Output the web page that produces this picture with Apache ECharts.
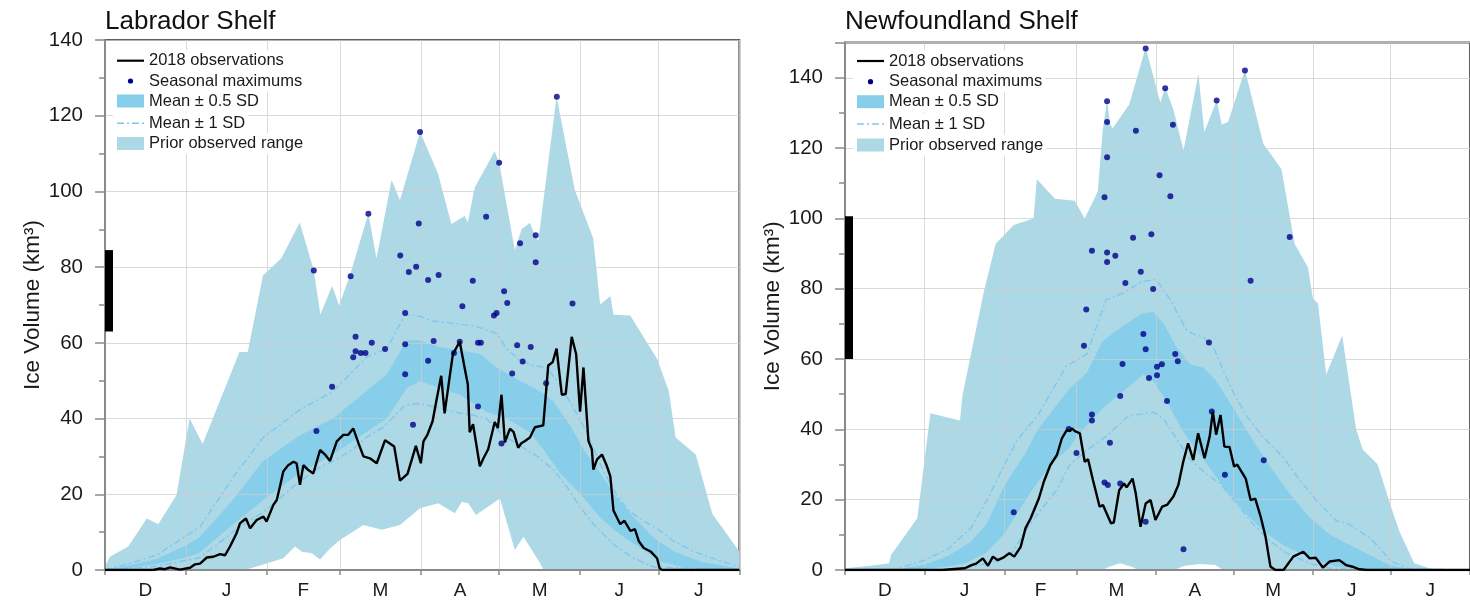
<!DOCTYPE html>
<html><head><meta charset="utf-8">
<script src="https://cdn.jsdelivr.net/npm/echarts@6/dist/echarts.min.js"></script>
<style>html,body{margin:0;padding:0;background:#fff}#c{width:1470px;height:600px}</style>
</head><body><div id="c"></div>
<script>
// x = days since 1 December
const MONTH_STARTS = [0,31,62,90,121,151,182,212,243];
const MONTH_MIDS = [15.5,46.5,76,105.5,136,166.5,197,227.5];
const MONTH_LABELS = ['D','J','F','M','A','M','J','J'];
const PANEL_TITLES = ['Labrador Shelf','Newfoundland Shelf'];
const LEGEND_LABELS = ['2018 observations','Seasonal maximums','Mean \u00b1 0.5 SD','Mean \u00b1 1 SD','Prior observed range'];

// ---------- Labrador Shelf ----------
const labObs = [[0,0],[18.5,0],[21,0.4],[23,0.2],[24.9,0.7],[28.7,0.1],[32.6,0.6],[34.5,1.5],[36.4,1.7],[39,3.3],[41.5,3.5],[44.1,4.2],[46,3.9],[47.9,6.2],[50.4,9.7],[51.7,12.3],[54,13.6],[55.6,11],[58.1,13.2],[60.7,14.1],[61.9,12.8],[63.2,15],[64.5,17.2],[65.8,18.5],[67,22],[68.3,26],[70.2,27.7],[72.2,28.6],[73.4,28.2],[74.7,22.5],[76,27.7],[77.9,26.4],[79.8,25.5],[82.4,31.7],[84.3,30.5],[86.2,28.8],[88.8,34],[91.3,35.7],[93.2,35.7],[95.1,37.4],[97.1,33.5],[99,30],[101.5,29.5],[104.1,28.2],[107.3,34.3],[110.8,32.6],[113,23.6],[115.9,25.4],[119.1,32.8],[121,28.2],[122,34],[123.5,35.7],[125.5,39.3],[126.9,44.5],[128.8,51.3],[130.1,41.4],[132,50.8],[133.3,57.1],[135.9,60.3],[137.5,54.4],[139,49],[139.7,36.4],[141,38.5],[143.6,27.4],[145,29.5],[146.8,31.9],[149.3,39.1],[150.5,37.5],[151.9,46.3],[153.2,33.7],[155.1,37.3],[156.5,36.5],[158.3,32.3],[159.5,33.5],[160.9,34.1],[162.8,35],[164.7,37.7],[167.9,38.2],[169.8,54],[171.5,54.9],[173,58.5],[175,46.3],[176.5,46.5],[178.8,61.6],[180.5,57],[182,41.8],[183.3,53.5],[185.2,34.1],[186.5,31.9],[187.1,26.5],[188.5,29.2],[190.4,30.5],[192.3,27.4],[193.6,24.7],[194.8,15.7],[197.4,12.1],[199,13],[201.3,10.3],[203,10.8],[204.5,7.6],[206.4,5.8],[209,4.9],[211.5,3.1],[212.5,0.4],[213.5,0],[243,0]];
const labMaxDots = [[80,79.1],[81,36.7],[87,48.4],[94.1,77.6],[96,61.6],[95.1,56.2],[96,57.8],[98,57.3],[99.8,57.3],[102.2,60],[100.9,94.1],[107.3,58.4],[113.1,83.1],[115,67.9],[115,59.6],[115,51.7],[116.4,78.7],[119.2,80.1],[118,38.4],[120.2,91.5],[120.7,115.7],[123.8,76.6],[127.8,77.9],[125.9,60.5],[123.8,55.3],[133.7,57.3],[135.9,60.3],[136.9,69.7],[140.9,76.4],[142.9,60],[144,60],[142.9,43.2],[146,93.3],[149,67.2],[150,67.9],[151,107.6],[152.9,73.6],[154.1,70.5],[151.9,33.4],[156,51.9],[157.9,59.4],[159,86.3],[160,55.1],[163.1,58.9],[165,88.4],[165,81.3],[169,49.3],[173.1,125],[179.1,70.4]];
const labRangeMax = [[0,1],[1.9,3.5],[8.9,6.2],[16,13.6],[20.4,12.1],[27.4,19.8],[32.4,40],[37.4,33.3],[51.5,57.6],[54.7,57.6],[60.5,77.8],[67.5,82.3],[74.6,91.8],[80,79.1],[82.5,67.5],[87,75],[89.7,69.9],[93.8,77.8],[100.9,94.2],[104,82.3],[109.8,103],[113,97.7],[120.7,115.7],[127.5,104.9],[132.7,91.4],[137.8,93.5],[139,91.8],[141.6,101],[149.3,110.6],[151,107.6],[157,84.5],[159.6,90],[162.8,91.7],[164.7,88.2],[166,87],[173,125],[180,100.3],[187,87.7],[189.7,70.1],[193.6,72.4],[194.8,67.4],[201.2,67.2],[211.5,55.8],[216,47.2],[218.6,35],[226.3,30.5],[232.7,14.8],[243,4.9]];
const labRangeMin = [[0,0],[50,0],[55.6,0.4],[68.3,3.1],[72.8,6.2],[75.4,4.8],[79.2,4.4],[82.4,2.8],[86.2,5.7],[90,7.9],[99,11.9],[106,10.6],[113,11.9],[120.7,16.3],[127.7,17.6],[134,15],[136.7,18],[139.2,17.6],[142.1,14.5],[151.3,18.9],[157,5.3],[160.3,8.8],[166.7,1.8],[168,0],[243,0]];
const labSd1Up = [[0,0],[10,1.8],[20,4],[36.4,11.4],[49.2,24.6],[60.6,35],[74.6,42.3],[87.4,47.2],[100.2,56.2],[108,58.5],[115,67.5],[120.7,67],[125.6,65.7],[133.3,65.2],[142.3,64.3],[150,62.5],[153.8,58.5],[159,55.3],[164,54],[169.2,53.5],[174.3,49],[179.5,42.7],[184.6,36.4],[189.7,28],[194.9,21],[200,16],[205.1,13.5],[212.8,10.3],[217.9,7.6],[225.6,4.9],[233.3,3],[243,0.8]];
const labSdHalfUp = [[0,0],[10,1.3],[20,3],[31,6.5],[36,8.5],[49,18.5],[60.5,28.7],[74.6,35.5],[87.4,40],[100,47.2],[108,51.7],[115.6,60.7],[120.5,60.7],[128.2,58.9],[135.9,58],[143.6,57.1],[150,53.5],[159,49.9],[166.7,47.2],[171.8,44.5],[178.2,38.2],[183.3,31.9],[189.7,25.6],[194.9,20.2],[202.6,13.9],[210.2,8.5],[218,4.9],[228.2,2.2],[243,0.4]];
const labSdHalfLo = [[0,0],[10,0.6],[20,1.6],[31,3.3],[36,4.5],[49,12],[60.5,18.4],[74.6,25.6],[87.4,30.5],[100,36.4],[108,40],[115.6,48.1],[120.7,49.9],[128.2,48.1],[135.9,46.3],[146.1,41.8],[153.8,40],[162.8,36.4],[167.9,31.9],[174.3,25.6],[182,20.2],[189.7,13.9],[197.4,9.4],[205.1,5.8],[212.8,2.2],[223,0.5],[243,0]];
const labSd1Lo = [[0,0],[20,1],[36.4,3.3],[49.2,10.1],[62,16],[72,22],[82,27],[87.4,28.7],[95,31.9],[100,35],[106.6,37.7],[115,43.6],[120.5,44],[128.2,42.7],[133.3,41.8],[141,40.9],[146.1,40],[152.6,35.5],[159,32.8],[165.4,30.1],[171.8,26.5],[176.9,22],[182,16.6],[187.2,12.1],[194.9,6.7],[202.6,3.1],[210.2,0.8],[243,0]];
const labBar = [63, 84.5];

// ---------- Newfoundland Shelf ----------
const nfObs = [[0,0],[37.7,0],[46.6,0.5],[49.2,1.4],[51,1.8],[53.6,3.3],[55.6,1.2],[57.5,3.8],[59.4,2.8],[61.5,3.5],[63.9,4.8],[65.8,3.8],[68.3,6.6],[70.2,11.9],[72.2,14.7],[75.4,20.4],[77.3,25.1],[79.8,29.8],[82.4,32.7],[84.3,37.4],[86.2,39.8],[87.5,39.5],[88.2,40.3],[89.4,39.5],[91.3,38.9],[93.2,30.8],[94.5,31.5],[96.4,25.6],[99,18],[100.3,18.5],[103.4,13.3],[104.5,13.5],[106.6,22.7],[108.5,24.6],[109.5,23.5],[111.8,26],[113,22],[114.9,12.3],[116.9,18.9],[118.8,19.9],[120.7,14.2],[123.3,18],[125.2,18.5],[127.7,20.9],[129.6,24.2],[131.5,30.8],[133.4,36],[135.4,31.3],[137.3,38.9],[139.8,31.8],[141.8,38],[143,45],[144.3,38.5],[146,44.1],[147.5,35.1],[149.5,35],[151.3,29.4],[152.5,30],[155.8,26],[157.7,19.9],[159.5,20.3],[161.6,15.2],[163.5,9.5],[165.4,1],[167.3,0],[170.5,0],[174.3,3.8],[178.2,5.2],[180.7,3.3],[183,3.5],[185.8,0.7],[188.4,2.4],[192.2,2.8],[194.8,1.4],[197,1],[200,0.2],[203,0],[243,0]];
const nfMaxDots = [[65.6,16.4],[87,40.1],[90,33.3],[92.9,63.8],[93.8,74.1],[96,90.8],[96,44.2],[96,42.5],[100.9,106],[101.9,90.3],[101.9,87.6],[101.9,117.4],[101.9,127.4],[101.9,133.3],[103,36.2],[100.9,24.9],[102.2,24.2],[105.1,89.4],[107,24.6],[107,49.5],[107.9,58.6],[109,81.6],[112,94.5],[113.1,124.9],[115,84.8],[116,67.1],[116.9,62.8],[118.2,54.6],[116.9,13.7],[116.9,148.3],[119.1,95.5],[119.8,79.9],[124.5,137],[127.5,126.6],[122.3,112.3],[126.5,106.3],[121.3,57.8],[123.2,58.5],[121.3,55.4],[128.4,61.4],[129.4,59.4],[125.2,48.1],[144.5,133.5],[155.5,142.1],[141.5,64.7],[142.6,45.1],[147.7,27.1],[131.6,5.9],[157.7,82.3],[172.9,94.7],[162.8,31.2]];
const nfRangeMax = [[0,0.5],[10,1.2],[17.2,1.9],[17.9,4.3],[28.1,14.7],[33.2,44.6],[44.7,42.5],[45.7,49.8],[54,79.2],[58.6,92.8],[65.6,98.1],[73.3,100],[74.6,111.1],[81.6,105.6],[89.3,105],[93.2,100],[98.3,107.7],[100.2,125.1],[101.9,133.6],[103,127],[104,125.6],[110.5,132.4],[116.9,148.6],[122.6,132.9],[124.5,137.2],[127.7,130.9],[131.6,119.3],[137.4,141.1],[139.7,124.6],[144.5,133.5],[146.5,126.6],[149,127.5],[155.5,142.3],[162.6,121.3],[169.7,114],[174.8,92.8],[180,86],[181.9,77.3],[183.9,75.8],[187.1,55.6],[193.3,66.7],[198.7,40.1],[201.3,34.3],[207.1,30],[212.3,17.9],[215.5,11.1],[221.3,1.9],[228.4,0.2],[243,0]];
const nfRangeMin = [[0,0],[100,0],[103,1],[107,1.9],[112,0.8],[114,0],[128,0],[132,1.2],[138,1.7],[144,1.4],[147,0],[243,0]];
const nfSd1Up = [[0,0],[20,0.3],[31,2.8],[40,6],[49,12],[56,21],[62,30],[67,37],[75,44],[86,58],[94,61.4],[101.5,76.8],[108,78.7],[115.6,82.1],[121,82.6],[126.5,76.8],[132.9,68.1],[135.5,67.1],[139.4,66.2],[143.2,63.3],[148.4,54.6],[151,50.5],[156,44],[162.6,37.7],[170,32.4],[176.8,25.6],[183.2,19.8],[191,14],[196,13],[204,9.2],[209,5.3],[212.3,2.5],[219.4,0.3],[243,0]];
const nfSdHalfUp = [[0,0],[20,0.2],[31,1.5],[40,4],[49,8],[55,13],[62,24],[70,33],[75,40],[87.4,51.7],[94,56],[100.2,65.2],[109.2,70],[115.6,73],[120,73.4],[123.9,70],[129,63.3],[134.2,58.5],[139.4,57.5],[144.5,53.6],[151,46],[157.4,38.2],[165.2,29.5],[172.9,21.7],[180.6,15],[188.4,10.1],[196.1,7.2],[203.9,4.3],[211.6,1.4],[219.4,0.3],[243,0]];
const nfSdHalfLo = [[0,0],[31,0.3],[40,1],[47,2],[55,5],[62,10.4],[72,22],[80,30],[87.5,35],[90,38],[100.2,46],[110,52],[116,55.6],[120,53.6],[125.2,47.8],[131.6,39.1],[139.4,31.4],[147.1,23.7],[154.8,16.9],[162.6,11.1],[170.3,7.2],[180.6,3.4],[191,1],[201.3,0.2],[243,0]];
const nfSd1Lo = [[0,0],[40,0.2],[50,1],[59,2.5],[65,5],[70.9,12],[76,17],[82.4,22.8],[87.4,30],[93.9,34],[101.5,38],[110.5,44],[116,44.4],[120,44.9],[123.9,43],[129,37.2],[134.2,31.4],[139.4,28],[145.8,24.6],[152.3,18.8],[158.7,13],[165.2,8.2],[171.6,4.8],[180.6,1.9],[188.4,0.5],[243,0]];
const nfBar = [60, 100.6];

const Y_MAX = [140, 150];

const FONT = "'Liberation Sans', Arial, Helvetica, sans-serif";
const C_RANGE = '#add8e6', C_HALF = '#87ceeb', C_SD1 = '#7ec8ee', C_DOT = '#00008b';

const panels = [
  {obs:labObs, dots:labMaxDots, rMax:labRangeMax, rMin:labRangeMin, s1u:labSd1Up, shu:labSdHalfUp, shl:labSdHalfLo, s1l:labSd1Lo, bar:labBar},
  {obs:nfObs, dots:nfMaxDots, rMax:nfRangeMax, rMin:nfRangeMin, s1u:nfSd1Up, shu:nfSdHalfUp, shl:nfSdHalfLo, s1l:nfSd1Lo, bar:nfBar}
];
const GRID = [{left:105, top:40, width:634.3, height:530},{left:845, top:42.6, width:634.3, height:527.4}];
const LEGEND_ROWS = [[60.7, 81, 101, 123.3, 143.5], [61, 81.7, 101.7, 124, 145]];

function band(upper, lower, color, i, z) {
  return {type:'custom', coordinateSystem:'cartesian2d', xAxisIndex:i, yAxisIndex:i, z, silent:true,
    data:[[0,0]],
    renderItem:(params, api) => {
      const pts = upper.map(p => api.coord(p)).concat(lower.slice().reverse().map(p => api.coord(p)));
      return {type:'polygon', shape:{points:pts}, style:{fill:color}};
    }};
}
function barSeries(range, i) {
  return {type:'custom', coordinateSystem:'cartesian2d', xAxisIndex:i, yAxisIndex:i, z:6, silent:true,
    data:[[0, range[0], range[1]]],
    renderItem:(params, api) => {
      const a = api.coord([api.value(0), api.value(1)]);
      const b = api.coord([api.value(0), api.value(2)]);
      return {type:'rect', shape:{x:a[0], y:b[1], width:8, height:a[1]-b[1]}, style:{fill:'#000'}};
    }};
}

const series = [];
panels.forEach((p, i) => {
  series.push(band(p.rMax, p.rMin, C_RANGE, i, 1));
  series.push(band(p.shu, p.shl, C_HALF, i, 2));
  [p.s1u, p.s1l].forEach(d => series.push({type:'line', xAxisIndex:i, yAxisIndex:i, data:d, showSymbol:false, silent:true, z:4,
    lineStyle:{color:C_SD1, width:1.4, type:[7,3,2,3]}}));
  series.push({type:'line', xAxisIndex:i, yAxisIndex:i, data:p.obs, showSymbol:false, silent:true, z:6,
    lineStyle:{color:'#000', width:2.4}});
  series.push({type:'scatter', xAxisIndex:i, yAxisIndex:i, data:p.dots, symbolSize:6, silent:true, z:5,
    itemStyle:{color:C_DOT}});
  series.push(barSeries(p.bar, i));
});

const xAxes = GRID.map((g, i) => ({
  type:'value', gridIndex:i, min:0, max:243, z:3,
  axisLine:{show:true, onZero:false, lineStyle:{color:'#8a8a8a', width:2}},
  axisTick:{show:true, customValues:MONTH_STARTS, length:5, lineStyle:{color:'#8a8a8a', width:1.5}},
  axisLabel:{customValues:MONTH_MIDS, formatter:v => MONTH_LABELS[MONTH_MIDS.indexOf(v)] || '',
    fontSize:19, color:'#1a1a1a', fontFamily:FONT, margin:11},
  splitLine:{show:true, lineStyle:{color:'rgba(205,205,205,0.75)', width:1}}
}));
const yAxes = GRID.map((g, i) => ({
  type:'value', gridIndex:i, min:0, max:Y_MAX[i], interval:20, z:3,
  name:'Ice Volume (km\u00b3)', nameLocation:'middle', nameGap:61,
  nameTextStyle:{fontSize:22.5, color:'#1a1a1a', fontFamily:FONT},
  axisLine:{show:true, lineStyle:{color:'#8a8a8a', width:2}},
  axisTick:{show:true, length:10, lineStyle:{color:'#8a8a8a', width:1.5}},
  minorTick:{show:true, splitNumber:2, length:6, lineStyle:{color:'#8a8a8a', width:1.5}},
  axisLabel:{fontSize:20.5, color:'#1a1a1a', fontFamily:FONT, margin:22, showMaxLabel: i === 0},
  splitLine:{show:true, lineStyle:{color:'rgba(205,205,205,0.75)', width:1}}
}));

const graphics = [];
GRID.forEach((g, i) => {
  const x0 = g.left, rows = LEGEND_ROWS[i];
  LEGEND_LABELS.forEach((t, k) => {
    graphics.push({type:'text', x:x0 + 8, y:rows[k], z:100,
      style:{text:t, fill:'#1a1a1a', font:'16.5px ' + FONT, verticalAlign:'middle',
        backgroundColor:'#fff', padding:[2, 3, 2, 36]}});
  });
  const sx1 = x0 + 12, sx2 = x0 + 39, sw = 27;
  graphics.push({type:'line', z:101, shape:{x1:sx1, y1:rows[0], x2:sx2, y2:rows[0]}, style:{stroke:'#000', lineWidth:2.2}});
  graphics.push({type:'circle', z:101, shape:{cx:(sx1+sx2)/2, cy:rows[1], r:2.6}, style:{fill:C_DOT}});
  graphics.push({type:'rect', z:101, shape:{x:sx1, y:rows[2]-6.5, width:sw, height:13}, style:{fill:C_HALF}});
  graphics.push({type:'line', z:101, shape:{x1:sx1, y1:rows[3], x2:sx2, y2:rows[3]}, style:{stroke:C_SD1, lineWidth:1.5, lineDash:[7,3,2,3]}});
  graphics.push({type:'rect', z:101, shape:{x:sx1, y:rows[4]-6.5, width:sw, height:13}, style:{fill:C_RANGE}});
});

const option = {
  animation:false,
  backgroundColor:'#fff',
  title: GRID.map((g, i) => ({text:PANEL_TITLES[i], left:g.left, top:9, padding:0,
    textStyle:{fontSize:26, fontWeight:'normal', color:'#111', fontFamily:FONT}})),
  grid: GRID.map(g => ({left:g.left, top:g.top, width:g.width, height:g.height, show:true,
    borderColor:'#5e5e5e', borderWidth:2, backgroundColor:'transparent', containLabel:false})),
  xAxis:xAxes, yAxis:yAxes, series, graphic:graphics
};
const chart = echarts.init(document.getElementById('c'));
chart.setOption(option);
</script></body></html>
